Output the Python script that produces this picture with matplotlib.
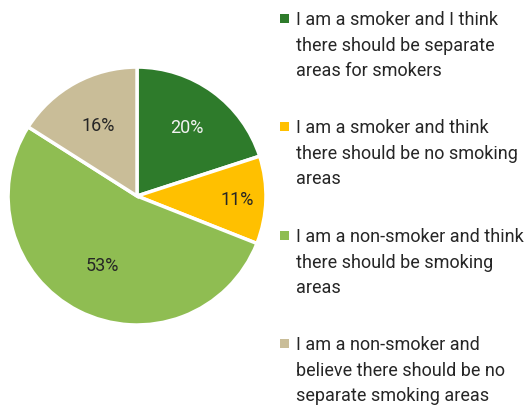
import matplotlib.pyplot as plt
import numpy as np

plt.rcParams['font.family'] = ['Roboto', 'DejaVu Sans']

# data
labels = [
    'I am a smoker and I think\nthere should be separate\nareas for smokers',
    'I am a smoker and think\nthere should be no smoking\nareas',
    'I am a non-smoker and think\nthere should be smoking\nareas',
    'I am a non-smoker and\nbelieve there should be no\nseparate smoking areas',
]
shares = [20, 11, 53, 16]
colors = ['#2e7b2b', '#ffc000', '#8fbd52', '#c9bd98']
label_colors = ['#f2f2f2', '#262626', '#262626', '#262626']
label_dist = [0.66, 0.78, 0.60, 0.63]

fig = plt.figure(figsize=(5.28, 4.14), dpi=100)
ax = fig.add_axes([0.0152, 0.2126, 0.4886, 0.623])

wedges, _ = ax.pie(shares, colors=colors, startangle=90, counterclock=False,
                   radius=1.0, wedgeprops=dict(edgecolor='white', linewidth=2.5))
ax.set_xlim(-1, 1)
ax.set_ylim(-1, 1)
ax.set_aspect('equal')
ax.axis('off')

# percentage labels
for w, v, c, d in zip(wedges, shares, label_colors, label_dist):
    ang = np.deg2rad((w.theta1 + w.theta2) / 2)
    ax.text(d * np.cos(ang), d * np.sin(ang), f'{v}%', ha='center', va='center',
            fontsize=13, color=c)

# legend, drawn by hand to match the spacing
entry_tops = [11, 119, 228, 336]
for lab, col, top in zip(labels, colors, entry_tops):
    y = 1 - top / 414
    fig.patches.append(plt.Rectangle((280 / 528, 1 - (top + 13) / 414), 9 / 528, 9 / 414,
                                     transform=fig.transFigure, facecolor=col,
                                     edgecolor='none'))
    fig.text(296 / 528, y, lab, ha='left', va='top', fontsize=13, color='#262626',
             linespacing=1.55)

fig.savefig('out.png', dpi=100)
